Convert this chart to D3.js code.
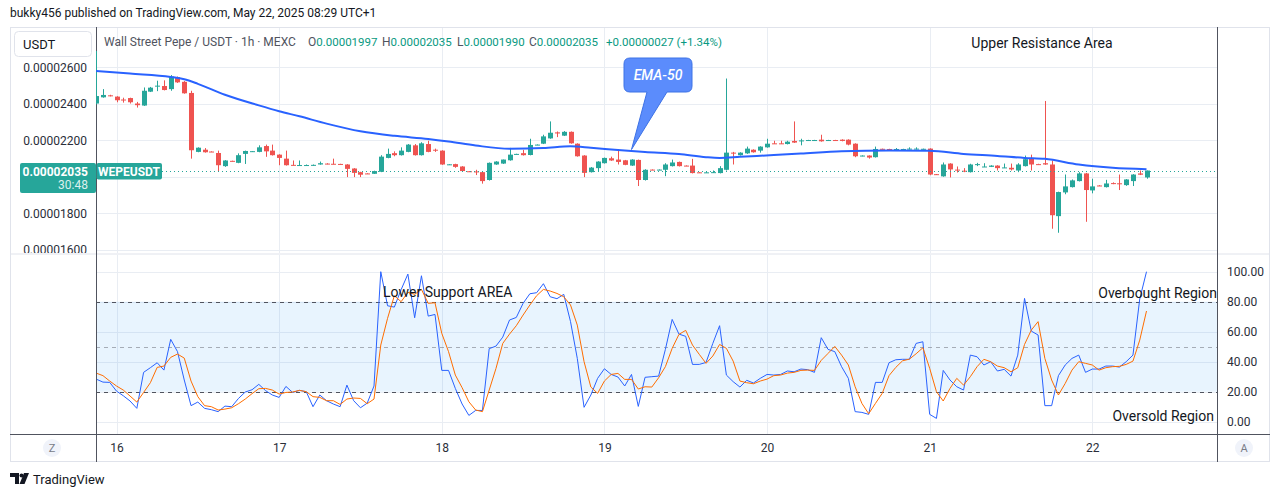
<!DOCTYPE html>
<html>
<head>
<meta charset="utf-8">
<script src="https://cdn.jsdelivr.net/npm/d3@7"></script>
<style>
html, body { margin: 0; padding: 0; background: #fff; }
svg { display: block; font-family: Roboto, "Open Sans", sans-serif; }
</style>
</head>
<body>
<svg id="chart" width="1281" height="497"></svg>
<script>
// WEPE/USDT 1h candles, prices in units of 1e-8 USDT, first candle = May 15 21:00
const open = [
  2402,2436,2447,2440,2424,2432,2402,2391,2467,2496,2498,2481,
  2547,2521,2460,2137,2149,2139,2131,2059,2088,2077,2126,2139,
  2137,2169,2144,2122,2100,2066,2063,2063,2063,2068,2073,2072,
  2071,2068,2046,2026,2019,2017,2028,2104,2130,2119,2137,2173,
  2119,2180,2149,2144,2067,2070,2057,2031,2030,2026,1983,2068,
  2073,2091,2124,2130,2120,2175,2182,2211,2244,2226,2247,2182,
  2117,2026,2048,2075,2102,2095,2091,2062,2093,1983,2040,2038,
  2039,2059,2082,2062,2062,2025,2023,2023,2021,2039,2133,2119,
  2129,2149,2144,2162,2184,2184,2180,2197,2198,2200,2200,2204,
  2200,2202,2204,2204,2182,2115,2117,2108,2154,2153,2151,2151,
  2152,2152,2152,2155,2015,2003,2073,2040,2034,2026,2068,2055,
  2055,2062,2050,2050,2035,2059,2100,2070,2075,2068,1785,1915,
  1944,1977,2019,1926,1953,1944,1966,1965,1955,1977,2019,1997
];
const high = [
  2690,2481,2450,2442,2434,2434,2411,2490,2493,2527,2529,2558,
  2550,2525,2472,2162,2158,2140,2144,2092,2089,2129,2144,2142,
  2173,2177,2177,2124,2144,2090,2090,2068,2068,2084,2075,2100,
  2072,2070,2048,2028,2020,2034,2119,2155,2140,2162,2180,2180,
  2190,2198,2155,2146,2070,2072,2059,2032,2039,2028,2079,2086,
  2095,2159,2127,2148,2209,2178,2231,2304,2249,2251,2249,2184,
  2119,2054,2086,2106,2111,2144,2093,2097,2095,2042,2041,2041,
  2075,2095,2084,2063,2099,2026,2026,2035,2059,2539,2137,2135,
  2166,2151,2168,2209,2198,2198,2198,2304,2209,2203,2203,2231,
  2203,2203,2206,2206,2184,2118,2118,2166,2155,2154,2158,2154,
  2162,2162,2155,2157,2016,2079,2075,2057,2048,2072,2077,2075,
  2064,2064,2073,2073,2075,2117,2122,2072,2416,2090,1919,2013,
  1986,2026,2022,1990,1955,1984,1970,2013,1988,2015,2035,2035
];
const low = [
  2398,2434,2441,2409,2407,2402,2380,2389,2465,2470,2474,2472,
  2515,2456,2100,2135,2133,2136,2032,2055,2085,2075,2071,2138,
  2135,2110,2117,2064,2062,2063,2062,2060,2061,2067,2069,2069,
  2068,1999,1999,1999,2016,2016,2026,2102,2113,2117,2135,2117,
  2117,2135,2137,2066,2066,2050,2030,2028,2010,1963,1980,2066,
  2071,2089,2122,2117,2118,2174,2180,2209,2218,2224,2182,2111,
  1999,2024,2028,2073,2088,2068,2064,2060,1950,1980,2037,2037,
  2004,2057,2057,2059,2019,2022,2022,2022,2019,2035,2068,2117,
  2126,2133,2133,2160,2181,2181,2178,2186,2173,2199,2199,2193,
  2199,2199,2195,2173,2108,2113,2100,2106,2150,2150,2146,2150,
  2150,2150,2150,2009,2011,2001,1997,2024,2026,2024,2059,2054,
  2054,2035,2049,2035,2026,2057,2035,2067,2066,1716,1694,1905,
  1942,1975,1754,1910,1950,1942,1960,1928,1951,1950,2010,1990
];
const close = [
  2443,2449,2444,2420,2421,2409,2393,2472,2489,2500,2476,2550,
  2518,2458,2146,2160,2135,2137,2064,2090,2086,2119,2142,2141,
  2162,2140,2119,2104,2064,2064,2065,2065,2066,2075,2071,2070,
  2069,2044,2022,2012,2017,2032,2111,2126,2119,2144,2177,2119,
  2184,2137,2144,2068,2069,2055,2032,2029,2028,1977,2077,2084,
  2095,2122,2126,2119,2175,2177,2222,2242,2238,2247,2184,2113,
  2022,2051,2084,2104,2090,2082,2066,2095,1983,2039,2038,2040,
  2068,2079,2059,2060,2021,2023,2025,2026,2048,2133,2128,2133,
  2155,2135,2166,2182,2182,2182,2193,2188,2200,2202,2202,2195,
  2202,2200,2197,2177,2113,2117,2106,2153,2151,2151,2153,2153,
  2155,2155,2154,2013,2012,2068,2041,2035,2032,2068,2070,2057,
  2062,2048,2052,2041,2068,2097,2068,2068,2068,1790,1917,1948,
  1981,2019,1928,1948,1951,1964,1964,1963,1986,2013,2012,2035
];

// EMA-50 at these candle indices
const emaAt  = [0,5,11,13,15,19,24,27,30,34,39,44,49,52,56,61,66,70,73,77,81,86,90,92,95,100,104,110,117,123,128,133,137,140,145,150,155];
const emaVal = [2580,2566,2548,2535,2510,2450,2392,2360,2332,2292,2250,2225,2208,2194,2172,2154,2158,2168,2160,2147,2136,2125,2108,2104,2110,2120,2128,2140,2144,2143,2126,2115,2104,2099,2068,2050,2042];

// Stoch RSI %K (blue) and %D (orange), one per candle
const stochK = [
  28.4,26.4,26.2,20.4,17.3,13.8,8.9,32.9,36,39.3,
  34.4,54.9,46.7,27.8,10.7,13.1,8.9,8,6.7,10.4,
  10,15.5,19.8,21.3,24.9,20.7,17.8,16.2,23.5,19.5,
  20.9,20,10,17.8,14,11.8,10,24.4,14,9.3,
  12.4,23.8,100,77.3,76.4,88,98.4,69.3,97.3,70.4,
  71.5,34.2,34.2,22.2,11.8,4.2,7.5,7.5,48.7,50.4,
  56.4,67.8,69.5,78.9,85.3,86,92,83.3,82,84.9,
  66.7,42.2,9.6,17.8,28.9,35.3,31.5,29.8,23.8,31.5,
  10.2,29.6,30,30.4,48.2,68.2,58.4,56.9,38.2,38.2,
  39.5,52.2,64,31.1,26.7,23.1,27.6,25.8,28.9,31.5,
  31.1,31.5,33.8,33.3,35.1,34.7,32.9,56,48.2,46.7,
  36.7,28.9,6.7,6.2,4.9,26.2,26.2,39.3,41.3,41.6,
  41.6,52.2,53.3,4.9,2.2,34.2,27.8,23.3,21.1,44.4,
  43.3,37.8,40,33.8,34.9,30.4,44.4,82.2,60.4,57.8,
  10.7,10.7,30.7,37.8,42.2,44.4,32.9,35.1,35.1,37.1,
  37.1,36.4,40,44.4,81.8,100
];
const stochD = [
  32.4,30.7,27.1,23.8,21.1,17.1,13.1,19.5,26,36.2,
  37.1,42.9,45.1,42.4,27.1,16.7,10.7,10,7.8,8.4,
  9.3,12,15.1,18.7,22,22.2,21.1,18.4,19.5,19.8,
  20.9,20,16.7,16.2,14,14,11.5,15.1,15.8,15.5,
  12,15.1,51.1,68.9,84,80,86.2,84.9,88.2,78.9,
  79.3,58.9,46.7,31.1,22.7,13.3,7.8,6.7,21.1,35.5,
  52.2,58.4,64,71.1,77.8,84,88.2,87.1,85.5,83.3,
  77.8,64.4,40,23.1,18.9,27.1,31.5,32.2,28.2,28.2,
  21.8,23.3,23.1,29.3,36.7,48.9,58.2,60.9,51.1,44.9,
  38.9,43.8,51.5,48.9,40.4,27.1,26,25.3,27.1,28.4,
  30.7,31.1,32.4,32.9,34.2,34.4,34.2,40.9,45.5,50.2,
  44.4,37.8,23.3,12.2,5.3,12.2,18.9,30.7,36.2,40.6,
  41.7,45.3,49.3,35.6,20,13.8,22.2,28.9,24.4,30,
  36.7,41.6,40,37.1,36,33.3,36,51.5,61.1,66.7,
  42.2,27.8,17.8,25.5,34.4,40,38.9,37.8,34.4,36,
  36.7,36.9,38.2,40.4,54.4,73.8
];

const priceTicks = [1600, 1800, 2000, 2200, 2400, 2600];
const stochTicks = [0, 20, 40, 60, 80, 100];
const lastPrice = 2035;

const UP = '#26a69a', DOWN = '#ef5350', GRID = '#e9edf3', DARK = '#50535e', LIGHT = '#e0e3eb';

const svg = d3.select('#chart');
const L = 96, R = 1217;
const p1 = { top: 27, bottom: 253 };
const p2 = { top: 255, bottom: 434 };

const start = new Date(2025, 4, 15, 21);
const times = open.map((d, i) => d3.timeHour.offset(start, i));
const days = d3.timeDay.range(new Date(2025, 4, 16), new Date(2025, 4, 22, 1));

const x = d3.scaleTime()
  .domain([new Date(2025, 4, 16), new Date(2025, 4, 22)])
  .range([116.5, 1092.3]);
const yP = d3.scaleLinear().domain([1600, 2600]).range([249.9, 67.4]);
const yS = d3.scaleLinear().domain([0, 100]).range([421.7, 271.7]);

const defs = svg.append('defs');
defs.append('clipPath').attr('id', 'clip1')
  .append('rect').attr('x', L).attr('y', p1.top).attr('width', R - L).attr('height', p1.bottom - p1.top);
defs.append('clipPath').attr('id', 'clip2')
  .append('rect').attr('x', L).attr('y', p2.top).attr('width', R - L).attr('height', p2.bottom - p2.top);
defs.append('clipPath').attr('id', 'clipAxis')
  .append('rect').attr('x', 0).attr('y', p1.top).attr('width', L).attr('height', p1.bottom - p1.top);

// header
svg.append('text')
  .attr('x', 10).attr('y', 17)
  .attr('font-size', 12).attr('fill', '#131722')
  .text('bukky456 published on TradingView.com, May 22, 2025 08:29 UTC+1');

// grid
const grid = svg.append('g');
[p1, p2].forEach(p => {
  grid.selectAll(null).data(days).enter().append('line')
    .attr('x1', d => Math.round(x(d)) + 0.5).attr('x2', d => Math.round(x(d)) + 0.5)
    .attr('y1', p.top).attr('y2', p.bottom)
    .attr('stroke', GRID);
});
grid.selectAll(null).data(priceTicks).enter().append('line')
  .attr('x1', L).attr('x2', R)
  .attr('y1', d => Math.round(yP(d)) + 0.5).attr('y2', d => Math.round(yP(d)) + 0.5)
  .attr('stroke', GRID);
grid.selectAll(null).data(stochTicks).enter().append('line')
  .attr('x1', L).attr('x2', R)
  .attr('y1', d => Math.round(yS(d)) + 0.5).attr('y2', d => Math.round(yS(d)) + 0.5)
  .attr('stroke', GRID);

// stoch band
const st = svg.append('g').attr('clip-path', 'url(#clip2)');
st.append('rect')
  .attr('x', L).attr('width', R - L)
  .attr('y', yS(80)).attr('height', yS(20) - yS(80))
  .attr('fill', 'rgba(33,150,243,0.1)');
[[80, DARK], [50, 'rgba(120,123,134,0.6)'], [20, DARK]].forEach(([v, c]) => {
  st.append('line')
    .attr('x1', L).attr('x2', R)
    .attr('y1', Math.round(yS(v)) + 0.5).attr('y2', Math.round(yS(v)) + 0.5)
    .attr('stroke', c).attr('stroke-dasharray', '4,4');
});

// frame
const fr = svg.append('g').attr('fill', 'none');
fr.append('rect').attr('x', 10.5).attr('y', 27.5).attr('width', 1259).attr('height', 434).attr('stroke', LIGHT);
fr.append('line').attr('x1', 10).attr('x2', 1270).attr('y1', 254).attr('y2', 254).attr('stroke', LIGHT);
fr.append('line').attr('x1', 10).attr('x2', 1270).attr('y1', 434.5).attr('y2', 434.5).attr('stroke', DARK);
fr.append('line').attr('x1', 96.5).attr('x2', 96.5).attr('y1', 27).attr('y2', 462).attr('stroke', DARK);
fr.append('line').attr('x1', 1217.5).attr('x2', 1217.5).attr('y1', 27).attr('y2', 462).attr('stroke', DARK);

// candles
const candles = svg.append('g').attr('clip-path', 'url(#clip1)');
const cg = candles.selectAll('.candle')
  .data(times.map((t, i) => ({ t, o: open[i], h: high[i], l: low[i], c: close[i] })))
  .enter().append('g').attr('class', 'candle');
cg.append('line')
  .attr('x1', d => Math.round(x(d.t)) + 0.5).attr('x2', d => Math.round(x(d.t)) + 0.5)
  .attr('y1', d => yP(d.h)).attr('y2', d => yP(d.l))
  .attr('stroke', d => d.c >= d.o ? UP : DOWN);
cg.append('rect')
  .attr('x', d => Math.round(x(d.t)) - 2)
  .attr('width', 5)
  .attr('y', d => yP(Math.max(d.o, d.c)))
  .attr('height', d => Math.max(1, Math.abs(yP(d.o) - yP(d.c))))
  .attr('fill', d => d.c >= d.o ? UP : DOWN);

// EMA-50
const emaLine = d3.line()
  .x((d, i) => x(times[emaAt[i]]))
  .y(d => yP(d))
  .curve(d3.curveMonotoneX);
candles.append('path')
  .attr('d', emaLine(emaVal))
  .attr('fill', 'none').attr('stroke', '#2962ff').attr('stroke-width', 2);

// last price dotted line
svg.append('line')
  .attr('x1', 162).attr('x2', R)
  .attr('y1', Math.round(yP(lastPrice)) + 0.5).attr('y2', Math.round(yP(lastPrice)) + 0.5)
  .attr('stroke', UP).attr('stroke-dasharray', '1,3');

// stoch lines
const sLine = d3.line().x((d, i) => x(times[i])).y(d => yS(d));
st.append('path').attr('d', sLine(stochK))
  .attr('fill', 'none').attr('stroke', '#2962ff').attr('stroke-width', 1);
st.append('path').attr('d', sLine(stochD))
  .attr('fill', 'none').attr('stroke', '#ff6d00').attr('stroke-width', 1);

// axes (the 2000 label sits under the last-price tag, so it is not written)
const axLeft = svg.append('g').attr('clip-path', 'url(#clipAxis)')
  .append('g')
  .attr('transform', `translate(${L},0)`)
  .call(d3.axisLeft(yP).tickValues(priceTicks.filter(d => d !== 2000)).tickSize(0).tickPadding(9)
    .tickFormat(d => (d / 1e8).toFixed(8)));
const axRight = svg.append('g')
  .attr('transform', `translate(${R},0)`)
  .call(d3.axisRight(yS).tickValues(stochTicks).tickSize(0).tickPadding(10)
    .tickFormat(d => d.toFixed(2)));
const axBottom = svg.append('g')
  .attr('transform', `translate(0,${p2.bottom})`)
  .call(d3.axisBottom(x).tickValues(days).tickSize(0).tickPadding(9)
    .tickFormat(d3.timeFormat('%-d')));
[axLeft, axRight, axBottom].forEach(a => {
  a.select('.domain').remove();
  a.selectAll('text').attr('font-family', 'Roboto, sans-serif').attr('font-size', 12).attr('fill', '#2a2e39');
});

// last price labels
const lab = svg.append('g');
lab.append('rect').attr('x', 20).attr('y', 163).attr('width', 76).attr('height', 30).attr('rx', 2)
  .attr('fill', UP);
lab.append('text').attr('x', 88).attr('y', 176).attr('text-anchor', 'end')
  .attr('font-size', 12).attr('font-weight', 'bold').attr('fill', '#fff')
  .text((lastPrice / 1e8).toFixed(8));
lab.append('text').attr('x', 88).attr('y', 189).attr('text-anchor', 'end')
  .attr('font-size', 12).attr('fill', 'rgba(255,255,255,0.85)')
  .text('30:48');
lab.append('rect').attr('x', 96.5).attr('y', 163).attr('width', 65.5).attr('height', 16.5).attr('rx', 2)
  .attr('fill', UP);
lab.append('text').attr('x', 129).attr('y', 175.5).attr('text-anchor', 'middle')
  .attr('font-size', 12).attr('font-weight', 'bold').attr('fill', '#fff')
  .text('WEPEUSDT');

// USDT box
svg.append('rect').attr('x', 14.5).attr('y', 31.5).attr('width', 77).attr('height', 25).attr('rx', 4)
  .attr('fill', '#fff').attr('stroke', LIGHT);
svg.append('text').attr('x', 23).attr('y', 49).attr('font-size', 13).attr('fill', '#131722').text('USDT');

// legend
const leg = svg.append('text').attr('y', 46).attr('font-size', 12).attr('fill', '#50535e');
leg.append('tspan').attr('x', 104).text('Wall Street Pepe / USDT · 1h · MEXC');
[['O', 0.00001997, 308], ['H', 0.00002035, 382], ['L', 0.00001990, 457], ['C', 0.00002035, 529]].forEach(([k, v, px]) => {
  leg.append('tspan').attr('x', px).text(k);
  leg.append('tspan').attr('fill', '#089981').attr('font-size', 11.5).text(v.toFixed(8));
});
leg.append('tspan').attr('x', 606).attr('fill', '#089981').attr('font-size', 11.5).text('+0.00000027 (+1.34%)');

// annotations
const ann = svg.append('g').attr('font-size', 14).attr('fill', '#131722');
ann.append('text').attr('x', 1042).attr('y', 48).attr('text-anchor', 'middle').text('Upper Resistance Area');
ann.append('text').attr('x', 383).attr('y', 297).text('Lower Support AREA');
ann.append('text').attr('x', 1217).attr('y', 298).attr('text-anchor', 'end').text('Overbought Region');
ann.append('text').attr('x', 1214).attr('y', 421).attr('text-anchor', 'end').text('Oversold Region');

// EMA-50 callout
const tipX = x(times[79]), tipY = yP(2150);
const co = svg.append('g');
co.append('path')
  .attr('d', `M624,64 Q624,58 630,58 L686,58 Q692,58 692,64 L692,86 Q692,92 686,92 L667,92 L${tipX},${tipY} L647,92 L630,92 Q624,92 624,86 Z`)
  .attr('fill', '#5b8cfc').attr('stroke', '#3d72e6').attr('stroke-width', 1);
co.append('text').attr('x', 658).attr('y', 80).attr('text-anchor', 'middle')
  .attr('font-size', 14).attr('font-style', 'italic').attr('font-weight', 500).attr('fill', '#fff')
  .text('EMA-50');

// Z / A buttons
[[52, 'Z'], [1244, 'A']].forEach(([cx, t]) => {
  svg.append('circle').attr('cx', cx).attr('cy', 448).attr('r', 9).attr('fill', '#f0f3fa');
  svg.append('text').attr('x', cx).attr('y', 452).attr('text-anchor', 'middle')
    .attr('font-size', 11).attr('fill', '#787b86').text(t);
});

// TradingView logo
const logo = svg.append('g').attr('fill', '#131722');
logo.append('path').attr('d', 'M10,473 h9 v11 h-4 v-7 h-5 z');
logo.append('circle').attr('cx', 21.5).attr('cy', 475.5).attr('r', 2);
logo.append('path').attr('d', 'M24,473 h5 l-4.5,11 h-5 z');
svg.append('text').attr('x', 33).attr('y', 484).attr('font-size', 13).attr('fill', '#131722').text('TradingView');
</script>
</body>
</html>
